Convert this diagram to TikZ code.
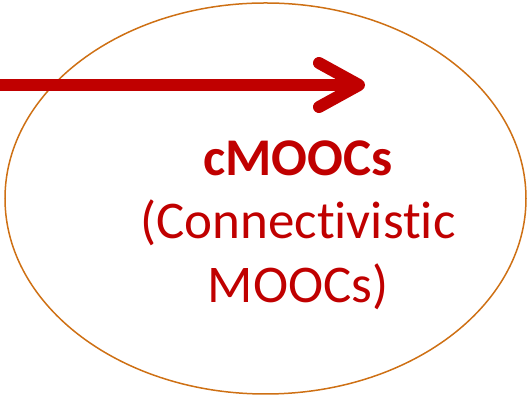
\documentclass[tikz,border=0pt]{standalone}
\usepackage{fontspec}
\setmainfont{Carlito}[Ligatures={NoCommon}]
\usetikzlibrary{arrows.meta}
\definecolor{moocred}{RGB}{192,0,0}
\definecolor{ringorange}{RGB}{206,112,20}
\tikzset{
    ring/.style={draw=ringorange,line width=1.5pt},
    bigarrow/.style={draw=moocred,line width=12pt,
        -{Straight Barb[length=40pt,width=44pt,round]}},
    moocs/.style={text=moocred,align=center,font=\fontsize{53}{63.5}\selectfont}
}
\begin{document}
\begin{tikzpicture}[x=1pt,y=1pt]
    \useasboundingbox (0,0) rectangle (528,395);

    % the circle round the text
    \draw [ring] (265.5,196.5) ellipse [x radius=260.5,y radius=195.5];

    % the arrow coming in from the left
    \coordinate (arrowstart) at (0,310);
    \coordinate (arrowend) at (365,310);
    \draw [bigarrow] (arrowstart) -- (arrowend);

    \node [moocs] (label) at (298,170) {\textbf{cMOOCs}\\(Connectivistic\\MOOCs)};
\end{tikzpicture}
\end{document}
